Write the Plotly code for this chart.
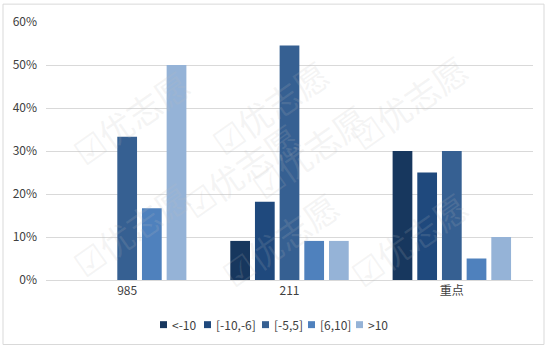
import plotly.graph_objects as go

categories = ["985", "211", "重点"]
series_names = ["<-10", "[-10,-6]", "[-5,5]", "[6,10]", ">10"]
lt_m10 = [0, 0.0909, 0.30]
m10_m6 = [0, 0.1818, 0.25]
m5_5 = [0.3333, 0.5455, 0.30]
p6_10 = [0.1667, 0.0909, 0.05]
gt10 = [0.50, 0.0909, 0.10]
series_values = [lt_m10, m10_m6, m5_5, p6_10, gt10]
colors = ["#17375E", "#1F497D", "#366092", "#4F81BD", "#95B3D7"]
y_ticks = [0, 0.1, 0.2, 0.3, 0.4, 0.5, 0.6]

FONT = "Noto Sans CJK SC, Microsoft YaHei, sans-serif"
L, R, T, B = 46, 533, 20, 280
PW, PH = R - L, B - T


def px(x):
    return (x - L) / PW


def py(y):
    return (B - y) / PH


fig = go.Figure()
for name, vals, col in zip(series_names, series_values, colors):
    fig.add_trace(go.Bar(x=categories, y=vals, name=name, marker_color=col,
                         marker_line_width=0, showlegend=False))

# faint watermark text
wm = [(60, 55), (270, 45), (480, 40), (170, 170), (380, 150), (60, 290), (280, 300), (480, 300)]
for wx, wy in wm:
    fig.add_annotation(x=px(wx), y=py(wy), xref="paper", yref="paper",
                       text="☑优志愿", showarrow=False, textangle=-35,
                       font=dict(family=FONT, size=34, color="rgba(190,190,190,0.16)"))

shapes = [dict(type="rect", xref="paper", yref="paper",
               x0=px(3), x1=px(544), y0=py(345), y1=py(2),
               line=dict(color="#d9d9d9", width=1), fillcolor="rgba(0,0,0,0)",
               layer="below")]

# compact legend (square + label), laid out left to right
legend_sq_x = [160, 204, 262, 308, 356]
legend_y = 325
for name, col, sx in zip(series_names, colors, legend_sq_x):
    shapes.append(dict(type="rect", xref="paper", yref="paper",
                       x0=px(sx), x1=px(sx + 7), y0=py(legend_y + 3.5), y1=py(legend_y - 3.5),
                       line=dict(width=0), fillcolor=col))
    fig.add_annotation(x=px(sx + 10), y=py(legend_y), xref="paper", yref="paper",
                       text=name, showarrow=False, xanchor="left", yanchor="middle",
                       font=dict(family=FONT, size=12, color="#404040"))

fig.update_layout(
    width=552, height=352,
    margin=dict(l=L, r=552 - R, t=T, b=352 - B),
    paper_bgcolor="white", plot_bgcolor="white",
    barmode="group", bargap=0.24, bargroupgap=0.2,
    font=dict(family=FONT, size=12, color="#595959"),
    showlegend=False,
    xaxis=dict(showgrid=False, showline=True, linecolor="#d9d9d9", linewidth=1,
               ticks="", tickfont=dict(size=12, color="#404040")),
    yaxis=dict(range=[0, 0.6], tickvals=y_ticks, tickformat=".0%",
               showgrid=True, gridcolor="#d9d9d9", gridwidth=1,
               zeroline=False, showline=False, ticks="", ticklabelstandoff=8,
               tickfont=dict(size=12, color="#404040")),
    shapes=shapes,
)

fig.write_html("out.html")
